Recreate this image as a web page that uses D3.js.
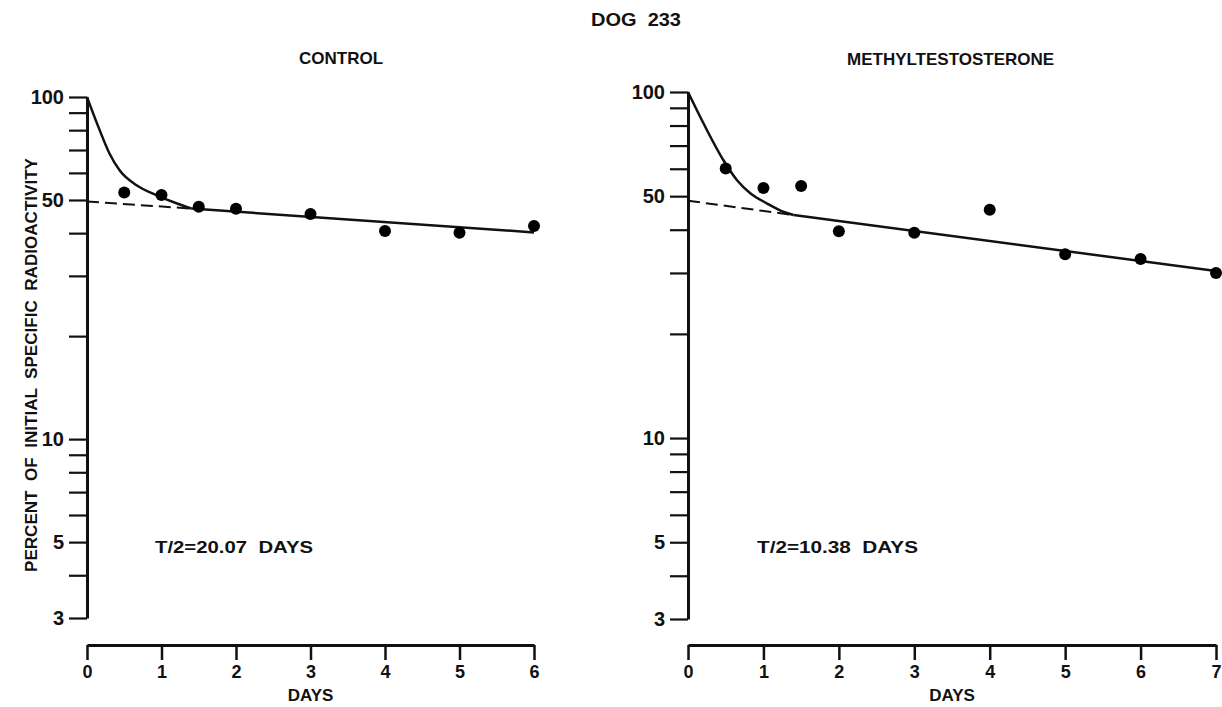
<!DOCTYPE html>
<html>
<head>
<meta charset="utf-8">
<script src="https://cdn.jsdelivr.net/npm/d3@7/dist/d3.min.js"></script>
<style>
  html, body { margin: 0; padding: 0; background: #fff; }
  svg { display: block; }
  text { font-family: "Liberation Sans", Arial, sans-serif; font-weight: bold; fill: #111; }
  .axis path, .axis line { stroke: #111; }
  .yaxis text { font-size: 20px; }
  .xaxis text { font-size: 18px; }
</style>
</head>
<body>
<svg id="chart" width="1222" height="707"></svg>
<script>
// Specific radioactivity (% of initial) over time, dog 233
const controlDays   = [0.5, 1, 1.5, 2, 3, 4, 5, 6];
const controlValues = [52.6, 51.7, 47.8, 47.1, 45.5, 40.6, 40.1, 42.0];

const methylDays   = [0.5, 1, 1.5, 2, 3, 4, 5, 6, 7];
const methylValues = [60.1, 52.8, 53.5, 39.6, 39.2, 45.7, 34.0, 32.9, 30.0];

// fitted curves: fast early component and slow terminal component
const controlEarlyDays   = [0, 0.17, 0.3, 0.44, 0.66, 0.93, 1.2, 1.4];
const controlEarlyValues = [100, 80, 68.5, 61, 55.3, 51.7, 48.9, 47.2];
const controlSlowDays    = [0, 1.4, 6];
const controlSlowValues  = [49.5, 47.2, 40.2];

const methylEarlyDays   = [0, 0.22, 0.47, 0.65, 0.83, 1.05, 1.27, 1.4];
const methylEarlyValues = [100, 80, 63.5, 55.6, 50.9, 47.6, 45.0, 44.1];
const methylSlowDays    = [0, 1.4, 7];
const methylSlowValues  = [48.5, 44.1, 30.4];

const yTicks  = [100, 90, 80, 70, 60, 50, 40, 30, 20, 10, 9, 8, 7, 6, 5, 4, 3];
const yLabels = [100, 50, 10, 5, 3];

const halfLifeControl = "T/2=20.07  DAYS";
const halfLifeMethyl  = "T/2=10.38  DAYS";

const svg = d3.select("#chart");

svg.append("text")
  .attr("x", 591).attr("y", 26)
  .style("font-size", "18px")
  .attr("textLength", 90).attr("lengthAdjust", "spacingAndGlyphs")
  .style("white-space", "pre")
  .text("DOG  233");

svg.append("text")
  .attr("transform", "translate(37,365) rotate(-90)")
  .attr("text-anchor", "middle")
  .style("font-size", "16px")
  .attr("textLength", 414).attr("lengthAdjust", "spacingAndGlyphs")
  .style("white-space", "pre")
  .text("PERCENT  OF  INITIAL  SPECIFIC  RADIOACTIVITY");

function panel(cfg) {
  const g = svg.append("g");
  const x = d3.scaleLinear().domain([0, cfg.maxDay]).range(cfg.xRange);
  const y = d3.scaleLog().domain([3, 100]).range(cfg.yRange);

  // y axis (log)
  const yAxis = d3.axisLeft(y)
    .tickValues(yTicks)
    .tickSize(18)
    .tickSizeOuter(0)
    .tickPadding(5)
    .tickFormat(d => yLabels.includes(d) ? String(d) : "");
  const ya = g.append("g").attr("class", "axis yaxis")
    .attr("transform", `translate(${cfg.xRange[0]},0)`)
    .call(yAxis);
  ya.attr("font-family", null);
  ya.select(".domain").attr("stroke-width", 3);
  ya.selectAll(".tick line").attr("stroke-width", 2.2);
  ya.selectAll(".tick text").attr("fill", "#111");

  // x axis
  const days = d3.range(0, cfg.maxDay + 1);
  const xAxis = d3.axisBottom(x)
    .tickValues(days)
    .tickSize(15)
    .tickSizeOuter(0)
    .tickPadding(5)
    .tickFormat(d3.format("d"));
  const xa = g.append("g").attr("class", "axis xaxis")
    .attr("transform", `translate(0,${cfg.xAxisY})`)
    .call(xAxis);
  xa.attr("font-family", null);
  xa.select(".domain").attr("stroke-width", 3);
  xa.selectAll(".tick line").attr("stroke-width", 2.5);
  xa.selectAll(".tick text").attr("fill", "#111");

  const line = d3.line().x(d => x(d[0])).y(d => y(d[1]));
  const early = d3.zip(cfg.earlyDays, cfg.earlyValues);
  const slow = d3.zip(cfg.slowDays, cfg.slowValues);

  // extrapolated terminal component (dashed)
  g.append("path")
    .attr("d", line(slow.slice(0, 2)))
    .attr("fill", "none").attr("stroke", "#111").attr("stroke-width", 2)
    .attr("stroke-dasharray", "12,6");
  // terminal component (solid)
  g.append("path")
    .attr("d", line(slow.slice(1)))
    .attr("fill", "none").attr("stroke", "#111").attr("stroke-width", 2.5);
  // early fitted curve
  g.append("path")
    .attr("d", line.curve(d3.curveMonotoneX)(early))
    .attr("fill", "none").attr("stroke", "#111").attr("stroke-width", 2.5);

  // observed points
  g.selectAll("circle.pt")
    .data(d3.zip(cfg.days, cfg.values))
    .join("circle")
    .attr("class", "pt")
    .attr("cx", d => x(d[0])).attr("cy", d => y(d[1]))
    .attr("r", 6).attr("fill", "#000");

  g.append("text")
    .attr("x", cfg.titleX).attr("y", cfg.titleY)
    .style("font-size", "17px")
    .text(cfg.title);

  g.append("text")
    .attr("x", cfg.halfX).attr("y", 553)
    .style("font-size", "16px")
    .attr("textLength", cfg.halfLen).attr("lengthAdjust", "spacingAndGlyphs")
    .style("white-space", "pre")
    .text(cfg.halfLife);

  g.append("text")
    .attr("x", x(cfg.maxDay / 2)).attr("y", 701)
    .attr("text-anchor", "middle")
    .style("font-size", "17px")
    .text("DAYS");
}

panel({
  maxDay: 6, xRange: [87, 534], yRange: [618, 97], xAxisY: 645,
  days: controlDays, values: controlValues,
  earlyDays: controlEarlyDays, earlyValues: controlEarlyValues,
  slowDays: controlSlowDays, slowValues: controlSlowValues,
  title: "CONTROL", titleX: 299, titleY: 64,
  halfLife: halfLifeControl, halfX: 155, halfLen: 158
});

panel({
  maxDay: 7, xRange: [688, 1216], yRange: [619, 92], xAxisY: 645,
  days: methylDays, values: methylValues,
  earlyDays: methylEarlyDays, earlyValues: methylEarlyValues,
  slowDays: methylSlowDays, slowValues: methylSlowValues,
  title: "METHYLTESTOSTERONE", titleX: 847, titleY: 65,
  halfLife: halfLifeMethyl, halfX: 757, halfLen: 161
});
</script>
</body>
</html>
